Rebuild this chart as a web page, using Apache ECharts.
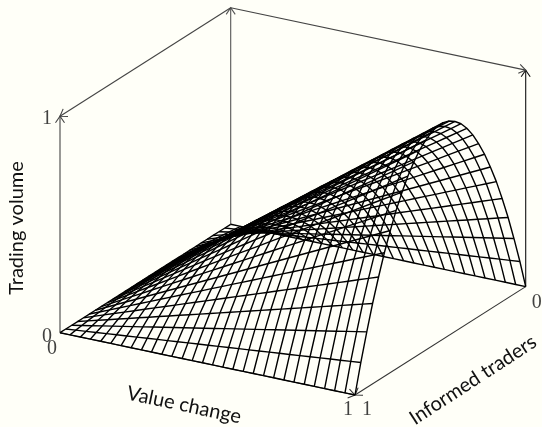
<!DOCTYPE html>
<html>
<head>
<meta charset="utf-8">
<title>Trading volume</title>
<script src="https://cdn.jsdelivr.net/npm/echarts@6/dist/echarts.min.js"></script>
<style>
  html, body { margin: 0; padding: 0; background: #fffff8; }
  #chart { width: 542px; height: 427px; }
</style>
</head>
<body>
<div id="chart"></div>
<script>
// mesh positions on both floor axes, 30 samples each
var valueChange = [0, 0.034, 0.069, 0.103, 0.138, 0.172, 0.207, 0.241, 0.276, 0.31, 0.345, 0.379, 0.414, 0.448, 0.483,
  0.517, 0.552, 0.586, 0.621, 0.655, 0.69, 0.724, 0.759, 0.793, 0.828, 0.862, 0.897, 0.931, 0.966, 1]
var informedTraders = [0, 0.034, 0.069, 0.103, 0.138, 0.172, 0.207, 0.241, 0.276, 0.31, 0.345, 0.379, 0.414, 0.448, 0.483,
  0.517, 0.552, 0.586, 0.621, 0.655, 0.69, 0.724, 0.759, 0.793, 0.828, 0.862, 0.897, 0.931, 0.966, 1]
// ridge height read along value change (at the peak of each arch)
var ridgeVolume = [0, 0.034, 0.069, 0.103, 0.138, 0.172, 0.207, 0.241, 0.276, 0.31, 0.345, 0.379, 0.414, 0.448, 0.483,
  0.517, 0.552, 0.586, 0.621, 0.655, 0.69, 0.724, 0.759, 0.793, 0.828, 0.862, 0.897, 0.931, 0.966, 1]
// arch read along informed traders at value change = 1
var archVolume = [0, 0.133, 0.257, 0.371, 0.476, 0.571, 0.656, 0.732, 0.799, 0.856, 0.904, 0.942, 0.97, 0.989, 0.999,
  0.999, 0.989, 0.97, 0.942, 0.904, 0.856, 0.799, 0.732, 0.656, 0.571, 0.476, 0.371, 0.257, 0.133, 0]

// view of the 3d box on the page (no perspective)
var origin = [60, 332.7]     // value 0, traders 1, volume 0
var valueDir = [295, 62.3]
var tradersDir = [-170.7, 108.4]
var volumeDir = [0, -216.5]

function project (v, t, z) {
  return [
    origin[0] + v * valueDir[0] + (t - 1) * tradersDir[0] + z * volumeDir[0],
    origin[1] + v * valueDir[1] + (t - 1) * tradersDir[1] + z * volumeDir[1]
  ]
}

var series = []

function meshLine (points) {
  series.push({
    type: 'line',
    data: points,
    symbol: 'none',
    silent: true,
    animation: false,
    clip: false,
    lineStyle: { color: '#000', width: 1.4 }
  })
}

// lines of constant value change
valueChange.forEach(function (v, i) {
  meshLine(informedTraders.map(function (t, j) {
    return project(v, t, ridgeVolume[i] * archVolume[j])
  }))
})
// lines of constant informed traders
informedTraders.forEach(function (t, j) {
  meshLine(valueChange.map(function (v, i) {
    return project(v, t, ridgeVolume[i] * archVolume[j])
  }))
})

// box edges, from -> to in (value, traders, volume), arrow at the "to" end
var boxEdges = [
  [[0, 1, 0], [0, 1, 1], '#444'],
  [[0, 0, 0], [0, 0, 1], '#555'],
  [[1, 0, 0], [1, 0, 1], '#111'],
  [[0, 0, 1], [0, 1, 1], '#444'],
  [[0, 0, 1], [1, 0, 1], '#444'],
  [[1, 0, 0], [1, 1, 0], '#333'],
  [[0, 1, 0], [1, 1, 0], '#333']
]

series.push({
  type: 'custom',
  silent: true,
  animation: false,
  clip: false,
  data: boxEdges.map(function (e, i) { return [i] }),
  renderItem: function (params, api) {
    var edge = boxEdges[api.value(0)]
    var a = api.coord(project(edge[0][0], edge[0][1], edge[0][2]))
    var b = api.coord(project(edge[1][0], edge[1][1], edge[1][2]))
    var ang = Math.atan2(b[1] - a[1], b[0] - a[0])
    var head = 8
    var wing = 0.6
    var style = { stroke: edge[2], fill: 'none', lineWidth: 1.1 }
    return {
      type: 'group',
      children: [
        { type: 'line', shape: { x1: a[0], y1: a[1], x2: b[0], y2: b[1] }, style: style },
        {
          type: 'polyline',
          shape: {
            points: [
              [b[0] - head * Math.cos(ang - wing), b[1] - head * Math.sin(ang - wing)],
              b,
              [b[0] - head * Math.cos(ang + wing), b[1] - head * Math.sin(ang + wing)]
            ]
          },
          style: style
        }
      ]
    }
  }
})

// tick labels: text, position on the box, pixel offset
var tickLabels = [
  ['0', [0, 1, 0], [-13, 4]],
  ['1', [0, 1, 1], [-13, 3]],
  ['0', [0, 1, 0], [-8, 16]],
  ['1', [1, 1, 0], [-7, 15]],
  ['1', [1, 1, 0], [12, 15]],
  ['0', [1, 0, 0], [11, 16]]
]

series.push({
  type: 'scatter',
  silent: true,
  animation: false,
  clip: false,
  symbolSize: 0,
  data: tickLabels.map(function (l) {
    var p = project(l[1][0], l[1][1], l[1][2])
    return {
      value: p,
      label: {
        show: true,
        formatter: l[0],
        position: 'inside',
        offset: l[2],
        color: '#111',
        fontSize: 20,
        fontFamily: 'Liberation Serif'
      }
    }
  })
})

var myChart = echarts.init(document.getElementById('chart'), null, { renderer: 'canvas' })

function axisTitle (text, x, y, deg) {
  return {
    type: 'text',
    x: x,
    y: y,
    rotation: deg * Math.PI / 180,
    silent: true,
    style: {
      text: text,
      fill: '#111',
      font: '20px Lato',
      align: 'center',
      verticalAlign: 'middle'
    }
  }
}

myChart.setOption({
  backgroundColor: '#fffff8',
  animation: false,
  grid: { left: 0, right: 0, top: 0, bottom: 0 },
  xAxis: { type: 'value', min: 0, max: 542, show: false },
  yAxis: { type: 'value', min: 0, max: 427, inverse: true, show: false },
  graphic: [
    axisTitle('Trading volume', 17, 228, 90),
    axisTitle('Value change', 184, 405, -12),
    axisTitle('Informed traders', 473, 380, 33)
  ],
  series: series
})
</script>
</body>
</html>
